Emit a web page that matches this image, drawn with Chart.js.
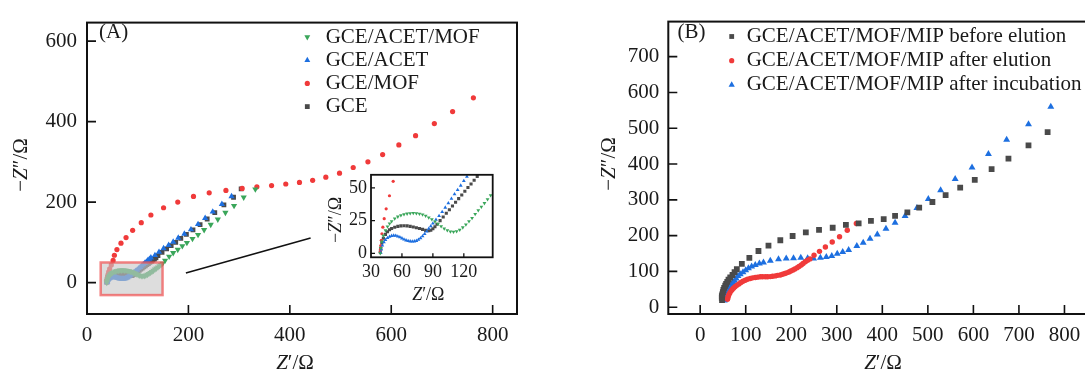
<!DOCTYPE html>
<html><head><meta charset="utf-8">
<script src="https://cdn.jsdelivr.net/npm/chart.js@4.4.0/dist/chart.umd.min.js"></script>
<style>
html,body{margin:0;padding:0;background:#fff;overflow:hidden;width:1085px;height:374px;position:relative;}
canvas{position:absolute;}
</style></head><body>
<canvas id="cA" width="540" height="374" style="left:0;top:0;width:540px;height:374px"></canvas>
<canvas id="cI" width="185" height="150" style="left:320px;top:160px;width:185px;height:150px"></canvas>
<canvas id="cB" width="520" height="374" style="left:600px;top:0;width:520px;height:374px"></canvas>
<script>
// ---------- Panel (A) data: [Z', -Z''] ----------
const A_LABELS = ['GCE/ACET/MOF', 'GCE/ACET', 'GCE/MOF', 'GCE'];
const A_ACET_MOF = [[39,0],[39.5,4],[40.5,9],[42,13.5],[44,17.5],[46,20.5],[48,22.8],[50,24.5],[53,26.5],[56,28],[59,29],[62,29.8],[65,30.3],[68,30.6],[71,30.7],[74,30.6],[77,30.2],[80,29.6],[83,28.6],[86,27.4],[89,26],[92,24.3],[95,22.5],[98,20.7],[101,19],[104,17.6],[107,16.7],[110,16.4],[113,16.8],[116,18],[119,19.8],[122,22],[125,24.5],[128,27],[131,30],[134,32.8],[137,35.5],[140,38.3],[143,41.2],[146,44.3],[149,47.5],[154,55],[162,65],[170,74],[179,82],[188,91],[197,99],[208,109],[219,119],[231,131],[244,144],[258,157],[273,174],[290,191],[309,212],[332,232]];
const A_ACET = [[39.5,0.5],[40,3],[41,6],[42.5,8.5],[44,10.3],[46,11.8],[48,12.8],[50,13.4],[52,13.6],[54,13.5],[56,13],[58,12.3],[60,11.5],[62,10.7],[64,10],[66,9.5],[68,9.2],[70,9.1],[72,9.2],[74,9.6],[76,10.4],[78,11.6],[80,13.1],[82,14.8],[84,16.8],[86,18.8],[88,20.8],[90,22.8],[93,25.8],[96,28.6],[99,31.7],[102,35],[105,38.4],[108,41.8],[111,45.2],[114,48.4],[117,51.8],[120,55.3],[123,58.6],[126,62],[134,68],[142,76],[151,85],[161,93],[170,101],[180,111],[192,121],[205,132],[219,145],[233,160],[248,176],[266,195],[285,214]];
const A_MOF = [[39,1],[39.2,3],[39.5,6],[40,10],[40.6,15],[41.5,20],[42.8,26.5],[44.7,34],[47.9,44],[51.5,55],[54,68],[59,82],[67,98],[77,112],[90,130],[107,149],[126,168],[151,186],[179,200],[210,214],[241,223],[274,229],[306,234],[335,238],[364,241],[392,245],[419,249],[445,254],[471,262],[498,272],[525,286],[554,300],[583,318],[615,342],[648,365],[685,395],[721,425],[762,459]];
const A_GCE = [[39,1],[39.5,4],[40.5,8],[42,11.5],[44,14.5],[46,16.5],[48,18],[50,19],[53,20],[56,20.6],[59,21],[62,21.1],[65,21],[68,20.6],[71,20.1],[74,19.6],[77,19],[80,18.3],[83,17.6],[86,17.3],[88,17.7],[90,18.8],[92,20.3],[94,22.2],[97,25],[100,27.8],[103,30.6],[106,33.3],[109,36.2],[112,39],[115,41.8],[118,44.6],[121,47.4],[124,50.3],[127,53],[130,55.8],[133,58.7],[136,61.5],[140,67],[148,75],[157,84],[166,92],[175,100],[185,110],[196,120],[209,131],[223,144],[237,158],[252,174],[270,193],[289,212],[304,233]];
const A_X_TICKS = [0, 200, 400, 600, 800];
const A_Y_TICKS = [0, 200, 400, 600];
const INSET_X_TICKS = [30, 60, 90, 120];
const INSET_Y_TICKS = [0, 25, 50];
const ZOOM_BOX = [[27, -31], [149, 50]];        // highlighted region (data units)
const CONNECTOR = [[195, 24], [441, 111]];       // pointer line (data units)

// ---------- Panel (B) data ----------
const B_LABELS = ['GCE/ACET/MOF/MIP before elution', 'GCE/ACET/MOF/MIP after elution', 'GCE/ACET/MOF/MIP after incubation'];
const B_BEFORE = [[48,20],[47.5,26],[47.6,31],[48.5,36],[49.8,42],[51,48],[52.7,54],[55,60],[57,65],[59.5,71],[62.2,77],[66,83],[71,90],[75.5,98],[80.5,106],[91.5,121],[108,138],[128,157],[150,172],[176,187],[203,199],[232,209],[261,216],[291,222],[320,230],[348,234],[375,241],[403,246],[428,255],[455,265],[481,278],[510,294],[539,313],[571,334],[603,356],[640,386],[677,415],[721,452],[763,489]];
const B_ELUTION = [[60,22],[60.5,26],[61.5,30],[63,35],[65,40],[67.5,45],[70,49],[73,53],[76.5,57],[80.5,61],[85,65],[89.5,69],[94,72.5],[99,75.5],[104,78],[110,80],[115,82],[121,83],[126,84],[132,85],[137,85],[143,85],[148,85],[154,85.5],[159,86.5],[165,87.5],[170,89],[176,90],[181,92],[186,94],[190,96],[195,98.5],[199,101],[204,104],[208,107],[213,110.5],[217,114],[222,118],[226,122],[231,127],[236,131],[241,135],[250,145],[262,156],[275,168],[290,182],[306,197],[323,215],[343,234]];
const B_INCUB = [[53,19],[54,23],[55,27],[56,31],[57,36],[58.5,41],[60,46],[62,51],[64.5,56],[67,60],[69.5,65],[72.5,69],[75.5,74],[79,80],[83,87],[88,92],[94,98],[100,103],[106,109],[113,114],[121,118],[130,122],[139,125],[154,130],[172,134],[189,136],[205,137],[221,138],[236,137],[249,136],[264,138],[277,140],[289,143],[301,149],[313,154],[326,160],[344,171],[358,180],[373,191],[389,203],[408,219],[428,236],[450,255],[476,277],[501,302],[528,327],[560,358],[597,390],[633,428],[673,468],[721,511],[770,560]];
const B_X_TICKS = [0, 100, 200, 300, 400, 500, 600, 700, 800];
const B_Y_TICKS = [0, 100, 200, 300, 400, 500, 600, 700];

// ---------- style ----------
const GREEN = '#3aa65a', BLUE = '#1d6fe0', RED = '#f03a3a', BLACK = '#4a4a4a', TEXT = '#1a1a1a';
const SERIF = '"Liberation Serif", "Times New Roman", serif';
const XT = [['Z', 'italic'], ['\u2032/\u03A9', 'normal']];
const YT = [['\u2212', 'normal'], ['Z', 'italic'], ['\u2033/\u03A9', 'normal']];

const pts = a => a.map(p => ({x: p[0], y: p[1]}));
const H = Chart.helpers;

function drawRich(ctx, parts, size, cx, cy, rot) {
  ctx.save();
  ctx.translate(cx, cy);
  if (rot) ctx.rotate(rot);
  ctx.textBaseline = 'middle'; ctx.textAlign = 'left'; ctx.fillStyle = TEXT;
  let w = 0;
  const ws = parts.map(p => { ctx.font = `${p[1]} ${size}px ${SERIF}`; const m = ctx.measureText(p[0]).width; w += m; return m; });
  let x = -w / 2;
  parts.forEach((p, i) => { ctx.font = `${p[1]} ${size}px ${SERIF}`; ctx.fillText(p[0], x, 0); x += ws[i]; });
  ctx.restore();
}

const deco = {
  id: 'deco',
  beforeDatasetsDraw(chart, args, o) {
    if (o.whiteArea) {
      const a = chart.chartArea, ctx = chart.ctx;
      ctx.save(); ctx.fillStyle = '#fff'; ctx.fillRect(a.left, a.top, a.right - a.left, a.bottom - a.top); ctx.restore();
    }
  },
  afterDatasetsDraw(chart, args, o) {
    const {ctx, chartArea: a, scales: {x, y}} = chart;
    ctx.save();
    if (o.box) {
      const x0 = x.getPixelForValue(o.box[0][0]), y0 = y.getPixelForValue(o.box[1][1]);
      const x1 = x.getPixelForValue(o.box[1][0]), y1 = y.getPixelForValue(o.box[0][1]);
      ctx.fillStyle = 'rgba(200,200,200,0.62)';
      ctx.fillRect(x0, y0, x1 - x0, y1 - y0);
      ctx.strokeStyle = 'rgba(240,80,80,0.7)'; ctx.lineWidth = 2.5;
      ctx.strokeRect(x0, y0, x1 - x0, y1 - y0);
    }
    if (o.connector) {
      ctx.strokeStyle = '#111'; ctx.lineWidth = 1.6;
      ctx.beginPath();
      ctx.moveTo(x.getPixelForValue(o.connector[0][0]), y.getPixelForValue(o.connector[0][1]));
      ctx.lineTo(x.getPixelForValue(o.connector[1][0]), y.getPixelForValue(o.connector[1][1]));
      ctx.stroke();
    }
    // inward ticks
    ctx.strokeStyle = '#111'; ctx.lineWidth = o.tickWidth || 1.5;
    ctx.beginPath();
    x.ticks.forEach(t => {
      const px = x.getPixelForValue(t.value);
      if (px <= a.left + 1 || px >= a.right - 1) return;
      ctx.moveTo(px, a.bottom); ctx.lineTo(px, a.bottom - o.tickLen);
    });
    y.ticks.forEach(t => {
      const py = y.getPixelForValue(t.value);
      if (py <= a.top + 1 || py >= a.bottom - 1) return;
      ctx.moveTo(a.left, py); ctx.lineTo(a.left + o.tickLen, py);
    });
    ctx.stroke();
    // frame
    ctx.lineWidth = o.frameWidth; ctx.strokeStyle = '#111';
    ctx.strokeRect(a.left, a.top, a.right - a.left, a.bottom - a.top);
    ctx.restore();
    // titles
    if (o.xTitle) drawRich(ctx, XT, o.titleSize, o.xTitle[0], o.xTitle[1], 0);
    if (o.yTitle) drawRich(ctx, YT, o.titleSize, o.yTitle[0], o.yTitle[1], -Math.PI / 2);
    if (o.tag) {
      ctx.save(); ctx.font = `21px ${SERIF}`; ctx.fillStyle = TEXT; ctx.textBaseline = 'middle'; ctx.textAlign = 'left';
      ctx.fillText(o.tag[0], o.tag[1], o.tag[2]); ctx.restore();
    }
    if (o.legend) {
      const L = o.legend;
      chart.data.datasets.forEach((ds, i) => {
        const cy = L.y + i * L.dy;
        ctx.save();
        ctx.fillStyle = ds.backgroundColor; ctx.strokeStyle = ds.backgroundColor;
        H.drawPoint(ctx, {pointStyle: ds.pointStyle, rotation: ds.pointRotation || 0, radius: L.r[i], borderWidth: 0}, L.mx, cy);
        ctx.font = `21px ${SERIF}`; ctx.fillStyle = TEXT; ctx.textBaseline = 'middle'; ctx.textAlign = 'left';
        ctx.fillText(ds.label, L.tx, cy);
        ctx.restore();
      });
    }
  }
};

function axis(min, max, ticks, size, pad, fit, isX) {
  return {
    type: 'linear', min, max,
    afterBuildTicks: s => { s.ticks = ticks.map(v => ({value: v})); },
    afterFit: s => { if (isX) s.height = fit; else s.width = fit; },
    grid: {display: false, drawTicks: false},
    border: {display: false},
    ticks: {font: {family: SERIF, size}, color: TEXT, padding: pad, callback: v => String(v), maxRotation: 0, autoSkip: false}
  };
}

function ds(label, data, color, style, r, rot) {
  return {label, data: pts(data), backgroundColor: color, borderColor: color, pointStyle: style,
          pointRadius: r, pointRotation: rot || 0, pointBorderWidth: 0, pointHoverRadius: r, showLine: false};
}

const common = {responsive: false, animation: false, devicePixelRatio: 1, events: [],
  plugins: {legend: {display: false}, tooltip: {enabled: false}}};

// ---------- Panel A ----------
new Chart(document.getElementById('cA'), {
  type: 'scatter',
  data: {datasets: [
    ds(A_LABELS[0], A_ACET_MOF, GREEN, 'triangle', 3.6, 180),
    ds(A_LABELS[1], A_ACET, BLUE, 'triangle', 3.6),
    ds(A_LABELS[2], A_MOF, RED, 'circle', 2.6),
    ds(A_LABELS[3], A_GCE, BLACK, 'rect', 3.4)
  ]},
  options: Object.assign({}, common, {
    layout: {padding: {left: 0, top: 15, right: 23, bottom: 0}},
    scales: {
      x: axis(0, 848, A_X_TICKS, 21, 9, 60, true),
      y: axis(-78, 646, A_Y_TICKS, 21, 10, 87, false)
    },
    plugins: Object.assign({}, common.plugins, {deco: {
      box: ZOOM_BOX, connector: CONNECTOR, tickLen: 9, frameWidth: 2, tickWidth: 1.6,
      xTitle: [295, 363], yTitle: [21, 165], titleSize: 21, tag: ['(A)', 99, 32],
      legend: {mx: 307.3, tx: 325.7, y: 37, dy: 23.2, r: [3.4, 3.4, 2.6, 3.4]}
    }})
  }),
  plugins: [deco]
});

// ---------- Inset of panel A ----------
new Chart(document.getElementById('cI'), {
  type: 'scatter',
  data: {datasets: [
    ds(A_LABELS[0], A_ACET_MOF, GREEN, 'triangle', 2.2, 180),
    ds(A_LABELS[1], A_ACET, BLUE, 'triangle', 2.2),
    ds(A_LABELS[2], A_MOF, RED, 'circle', 1.6),
    ds(A_LABELS[3], A_GCE, BLACK, 'rect', 2.2)
  ]},
  options: Object.assign({}, common, {
    layout: {padding: {left: 0, top: 12.7, right: 12.3, bottom: 0}},
    scales: {
      x: axis(30, 148, INSET_X_TICKS, 18, 4, 52.7, true),
      y: axis(-3, 60, INSET_Y_TICKS, 18, 4, 51, false)
    },
    plugins: Object.assign({}, common.plugins, {deco: {
      whiteArea: true, tickLen: 4, frameWidth: 1.8, tickWidth: 1.3,
      xTitle: [108.3, 135], yTitle: [16.7, 60], titleSize: 18
    }})
  }),
  plugins: [deco]
});

// ---------- Panel B ----------
new Chart(document.getElementById('cB'), {
  type: 'scatter',
  data: {datasets: [
    ds(B_LABELS[0], B_BEFORE, BLACK, 'rect', 4.1),
    ds(B_LABELS[1], B_ELUTION, RED, 'circle', 2.7),
    ds(B_LABELS[2], B_INCUB, BLUE, 'triangle', 4.0)
  ]},
  options: Object.assign({}, common, {
    layout: {padding: {left: 0, top: 15, right: 19.1, bottom: 0}},
    scales: {
      x: axis(-70, 880, B_X_TICKS, 21, 9, 60, true),
      y: axis(-19, 798, B_Y_TICKS, 21, 9, 68.3, false)
    },
    plugins: Object.assign({}, common.plugins, {deco: {
      tickLen: 9, frameWidth: 2, tickWidth: 1.6,
      xTitle: [283, 363], yTitle: [9, 164], titleSize: 21, tag: ['(B)', 77.5, 32],
      legend: {mx: 131.7, tx: 146.7, y: 36.5, dy: 24.2, r: [3.4, 2.6, 3.6]}
    }})
  }),
  plugins: [deco]
});
</script>
</body></html>
